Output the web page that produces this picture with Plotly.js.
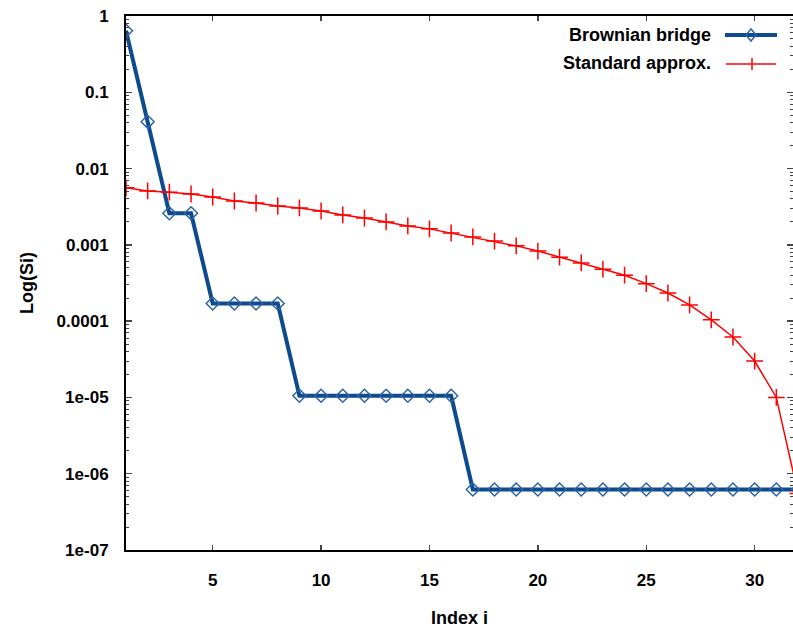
<!DOCTYPE html>
<html>
<head>
<meta charset="utf-8">
<script src="https://cdn.plot.ly/plotly-3.0.1.min.js"></script>
<style>html,body{margin:0;padding:0;background:#fff;}#chart{width:793px;height:632px;}</style>
</head>
<body>
<div id="chart"></div>
<script>
const indexI = [1,2,3,4,5,6,7,8,9,10,11,12,13,14,15,16,17,18,19,20,21,22,23,24,25,26,27,28,29,30,31,32];
const brownianBridge = [0.64,0.041,0.0026,0.0026,0.00017,0.00017,0.00017,0.00017,
  1.05e-5,1.05e-5,1.05e-5,1.05e-5,1.05e-5,1.05e-5,1.05e-5,1.05e-5,
  6.2e-7,6.2e-7,6.2e-7,6.2e-7,6.2e-7,6.2e-7,6.2e-7,6.2e-7,6.2e-7,6.2e-7,6.2e-7,6.2e-7,6.2e-7,6.2e-7,6.2e-7,6.2e-7];
const standardApprox = [0.0056,0.0051,0.0049,0.00464,0.00424,0.00376,0.00354,0.00323,0.00305,0.00278,
  0.00247,0.00225,0.0020,0.00177,0.00162,0.00143,0.00127,0.00112,0.00097,0.00083,
  0.00069,0.00058,0.00048,0.00040,0.00031,0.000234,0.000163,0.000104,6.2e-5,3.0e-5,1.0e-5,5.5e-7];
const yTickVals = [1,0.1,0.01,0.001,0.0001,1e-5,1e-6,1e-7];
const yTickText = ['1','0.1','0.01','0.001','0.0001','1e-05','1e-06','1e-07'];
const xTickVals = [5,10,15,20,25,30];
const seriesNames = ['Brownian bridge','Standard approx.'];

const minorVals = [];
for (let e = -7; e < 0; e++) { for (let m = 2; m <= 9; m++) minorVals.push(m * Math.pow(10, e)); }

const FONT = 'Liberation Sans Narrow, Arial Narrow, Liberation Sans, Arial, sans-serif';
const BLUE = '#0d4a8e';

const traces = [
  {x: indexI, y: brownianBridge, name: seriesNames[0], mode: 'lines+markers', cliponaxis: true,
   line: {color: BLUE, width: 4}, marker: {symbol: 'diamond-open', size: 10, color: '#2c64a6', line: {width: 1.5}}},
  {x: indexI, y: standardApprox, name: seriesNames[1], mode: 'lines+markers', cliponaxis: true,
   line: {color: '#ff0000', width: 1.5}, marker: {symbol: 'cross-thin-open', size: 12, color: '#ff0000', line: {width: 1.5, color: '#ff0000'}}}
];

const layout = {
  width: 793, height: 632,
  margin: {l: 126, r: 0, t: 16, b: 82},
  paper_bgcolor: '#fff', plot_bgcolor: '#fff',
  showlegend: false,
  font: {family: FONT, size: 17, color: '#000', weight: 'bold'},
  xaxis: {range: [1, 31.77], tickmode: 'array', tickvals: xTickVals, ticks: 'inside', ticklen: 5, tickwidth: 1.5,
    showline: true, linecolor: '#000', linewidth: 2, mirror: 'ticks', showgrid: false, zeroline: false,
    tickfont: {family: FONT, size: 17, weight: 'bold'}, ticklabelstandoff: 14,
    title: {text: 'Index i', font: {family: FONT, size: 18, weight: 'bold'}, standoff: 22}},
  yaxis: {type: 'log', range: [-7, 0], tickmode: 'array', tickvals: yTickVals, ticktext: yTickText,
    ticks: 'inside', ticklen: 6, tickwidth: 1.5, showline: true, linecolor: '#000', linewidth: 2, mirror: 'ticks',
    showgrid: false, zeroline: false, ticklabelstandoff: 12,
    minor: {tickmode: 'array', tickvals: minorVals, ticks: 'inside', ticklen: 3, tickwidth: 1, showgrid: false},
    tickfont: {family: FONT, size: 17, weight: 'bold'},
    title: {text: 'Log(Si)', font: {family: 'Liberation Sans, Arial, sans-serif', size: 18, weight: 'bold'}, standoff: 18}},
  annotations: [
    {xref: 'paper', yref: 'paper', x: (713-126)/667, y: (550-35)/534, xanchor: 'right', yanchor: 'middle', showarrow: false,
     text: seriesNames[0], font: {family: FONT, size: 18, weight: 'bold'}},
    {xref: 'paper', yref: 'paper', x: (713-126)/667, y: (550-63)/534, xanchor: 'right', yanchor: 'middle', showarrow: false,
     text: seriesNames[1], font: {family: FONT, size: 18, weight: 'bold'}}
  ],
  shapes: [
    {type: 'line', xref: 'paper', yref: 'paper', x0: (725-126)/667, x1: (777-126)/667, y0: (550-35)/534, y1: (550-35)/534, line: {color: BLUE, width: 4}},
    {type: 'path', xref: 'paper', yref: 'paper', path: '', line: {width: 0}},
    {type: 'line', xref: 'paper', yref: 'paper', x0: (726-126)/667, x1: (776-126)/667, y0: (550-64)/534, y1: (550-64)/534, line: {color: '#ff0000', width: 1.5}},
    {type: 'line', xref: 'paper', yref: 'paper', x0: (752-126)/667, x1: (752-126)/667, y0: (550-58)/534, y1: (550-70)/534, line: {color: '#ff0000', width: 1.5}}
  ]
};
// diamond marker in legend key
const cx = (751-126)/667, cy = (550-35)/534, dx = 5/667, dy = 6/534;
layout.shapes[1] = {type: 'path', xref: 'paper', yref: 'paper',
  path: `M ${cx-dx} ${cy} L ${cx} ${cy+dy} L ${cx+dx} ${cy} L ${cx} ${cy-dy} Z`, line: {color: '#2c64a6', width: 1.5}, fillcolor: 'rgba(0,0,0,0)'};

Plotly.newPlot('chart', traces, layout, {displayModeBar: false, staticPlot: true});
</script>
</body>
</html>
